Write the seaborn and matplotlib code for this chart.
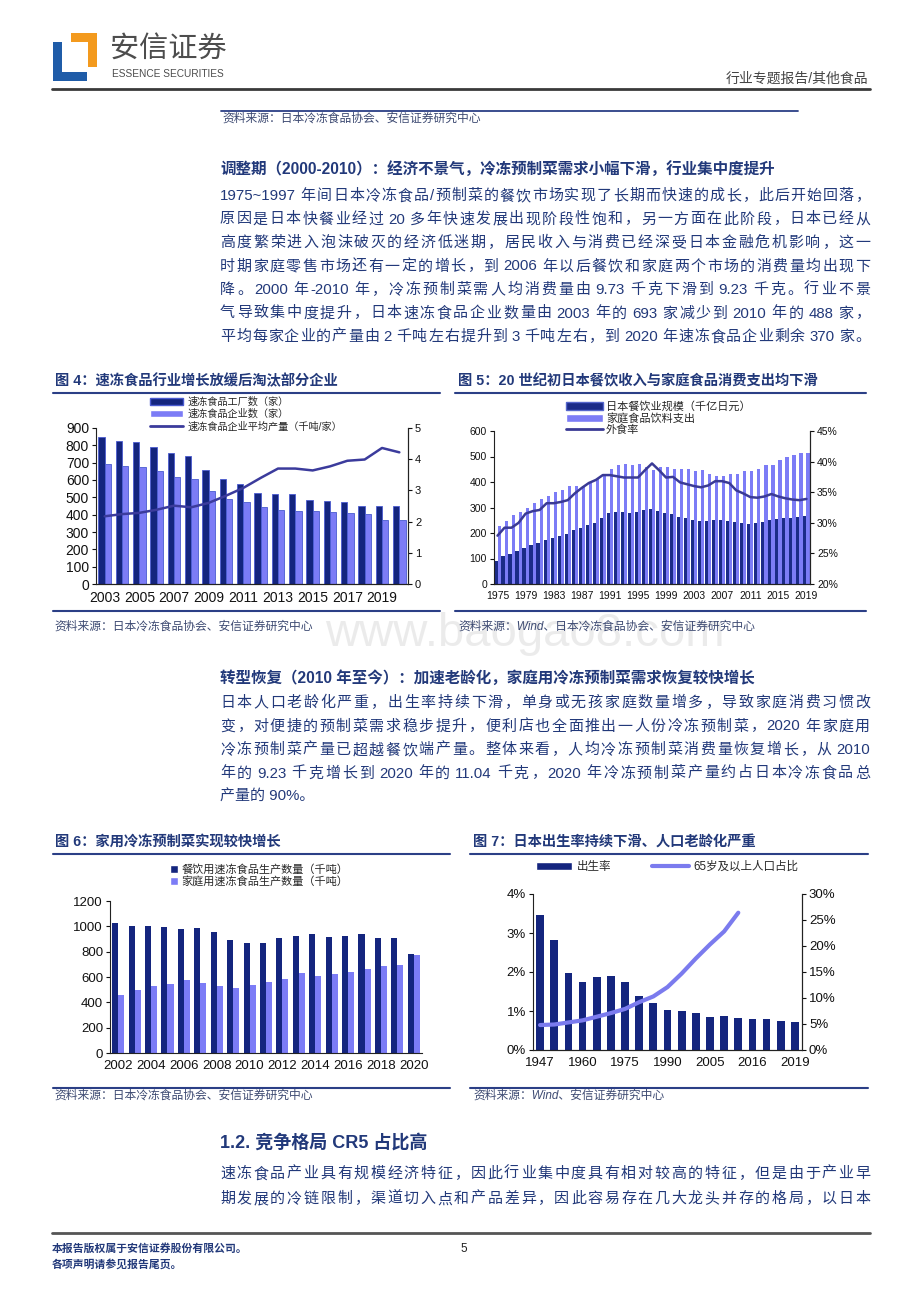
import numpy as np
import pandas as pd
import matplotlib
matplotlib.use('Agg')
import matplotlib.pyplot as plt
import seaborn as sns
from matplotlib.patches import Patch, Rectangle
from matplotlib.lines import Line2D

# ---------------- 数据 ----------------
# 图4 速冻食品行业
years4 = [str(y) for y in range(2003, 2021)]
factories4 = [846, 827, 821, 788, 756, 740, 656, 608, 579, 525, 519, 519, 487, 481, 473, 448, 448, 448]
firms4 = [693, 683, 675, 650, 617, 606, 538, 488, 471, 444, 429, 423, 423, 417, 410, 404, 371, 370]
avg_output4 = [2.17, 2.24, 2.28, 2.38, 2.51, 2.46, 2.60, 2.83, 3.08, 3.40, 3.70, 3.70, 3.64, 3.77, 3.95, 3.99, 4.36, 4.22]

# 图5 餐饮规模 / 家庭食品饮料支出 / 外食率
years5 = [str(y) for y in range(1975, 2020)]
dining5 = [90, 110, 118, 128, 140, 152, 162, 172, 180, 188, 198, 210, 220, 230, 238, 260, 278, 283, 282, 280,
           283, 292, 295, 288, 280, 275, 262, 260, 252, 248, 248, 252, 252, 248, 242, 238, 235, 238, 242, 252,
           256, 260, 260, 262, 265]
home5 = [227, 248, 271, 284, 300, 316, 335, 347, 361, 370, 385, 383, 385, 395, 410, 430, 452, 465, 470, 465,
         470, 460, 448, 460, 460, 450, 450, 450, 443, 447, 430, 425, 425, 432, 432, 442, 442, 452, 465, 465,
         488, 497, 505, 515, 515]
eatout5 = [27.9, 29.2, 29.2, 30.0, 31.5, 31.9, 32.1, 33.2, 33.2, 33.4, 33.7, 34.8, 35.7, 36.5, 37.0, 37.8, 37.8,
           37.6, 37.4, 37.4, 37.4, 38.6, 39.7, 38.6, 37.4, 37.5, 36.6, 36.3, 36.0, 35.8, 36.1, 36.8, 36.8, 36.5,
           35.3, 34.8, 34.2, 34.1, 34.3, 34.7, 34.3, 34.0, 33.8, 33.7, 33.9]

# 图6 餐饮用 / 家庭用速冻食品生产数量（千吨）
years6 = [str(y) for y in range(2002, 2021)]
dining6 = [1030, 1005, 1005, 998, 980, 988, 952, 895, 868, 868, 905, 922, 940, 915, 922, 940, 905, 905, 785]
home6 = [460, 495, 530, 548, 575, 550, 530, 512, 540, 558, 583, 630, 610, 620, 638, 665, 685, 695, 775]

# 图7 出生率 / 65岁及以上人口占比
years7 = ['1947', '1950', '1955', '1960', '1965', '1970', '1975', '1980', '1985', '1990',
          '1995', '2000', '2005', '2010', '2015', '2016', '2017', '2018', '2019']
birth7 = [3.45, 2.83, 1.97, 1.74, 1.88, 1.91, 1.74, 1.38, 1.20, 1.03, 0.99, 0.96, 0.84, 0.87, 0.81, 0.79, 0.79, 0.75, 0.72]
aged7 = [4.8, 4.9, 5.3, 5.7, 6.4, 7.1, 7.9, 9.2, 10.3, 12.1, 14.7, 17.6, 20.3, 22.8, 26.4]

# ---------------- 样式 ----------------
sns.set_theme(style='white')
plt.rcParams['font.family'] = ['Liberation Sans', 'Noto Sans CJK SC', 'DejaVu Sans']

W, H = 920, 1302
navy = '#14257e'
light = '#7c7cf6'
text_c = '#22397a'
src_c = '#3d4a72'

fig = plt.figure(figsize=(W / 100, H / 100), dpi=100)
renderer = fig.canvas.get_renderer()


def fx(x):
    return x / W


def fy(y):
    return 1 - y / H


def px_axes(x0, y0, x1, y1):
    return fig.add_axes([fx(x0), fy(y1), (x1 - x0) / W, (y1 - y0) / H])


def hline(x0, x1, y, color, lw):
    fig.add_artist(Line2D([fx(x0), fx(x1)], [fy(y), fy(y)], transform=fig.transFigure, color=color, lw=lw))


def txt(x, y, s, size, **kw):
    kw.setdefault('color', text_c)
    return fig.text(fx(x), fy(y), s, fontsize=size, va='center', **kw)


def tokens_of(s):
    # 中文逐字拆分, 连续的ASCII字符合为一段, 空格记作额外间距
    toks, buf, spaces = [], '', 0
    for ch in s:
        if ch == ' ':
            if buf:
                toks.append((buf, spaces))
                buf, spaces = '', 0
            spaces += 1
        elif ord(ch) < 128:
            buf += ch
        else:
            if buf:
                toks.append((buf, spaces))
                buf, spaces = '', 0
            toks.append((ch, spaces))
            spaces = 0
    if buf:
        toks.append((buf, spaces))
    return toks


def justify(x0, x1, y, s, size):
    toks = tokens_of(s)
    objs = [txt(x0, y, t, size) for t, _ in toks]
    widths = [o.get_window_extent(renderer).width for o in objs]
    space_w = 3.5
    natural = sum(widths) + space_w * sum(sp for _, sp in toks)
    gap = (x1 - x0 - natural) / max(len(toks) - 1, 1)
    x = x0
    for o, w, (_, sp) in zip(objs, widths, toks):
        x += sp * space_w
        o.set_x(fx(x))
        x += w + gap


def style_ax(ax, size, right=False):
    ax.spines['top'].set_visible(False)
    ax.spines['right'].set_visible(right)
    for s in ['left', 'bottom', 'right']:
        ax.spines[s].set_color('#222222')
        ax.spines[s].set_linewidth(0.8)
    ax.tick_params(axis='both', which='both', direction='out', length=3, width=0.8,
                   labelsize=size, colors='#111111', pad=2)
    ax.tick_params(axis='y', left=True)
    ax.tick_params(axis='x', bottom=False)
    ax.set_xlabel('')
    ax.set_ylabel('')
    ax.grid(False)


# ---------------- 页眉 ----------------
for (x0, y0, x1, y1, c) in [(71, 33, 97, 42, '#f39a1e'), (88, 33, 97, 67, '#f39a1e'),
                            (53, 42, 62, 81, '#1f5ca8'), (53, 72, 87, 81, '#1f5ca8')]:
    fig.add_artist(Rectangle((fx(x0), fy(y1)), (x1 - x0) / W, (y1 - y0) / H,
                             transform=fig.transFigure, color=c, lw=0))
txt(110, 49, '安信证券', 21, color='#4d4d4d')
txt(112, 74, 'ESSENCE SECURITIES', 7.3, color='#4d4d4d')
txt(868, 79, '行业专题报告/其他食品', 10, color='#444444', ha='right')
hline(52, 870, 89, '#3a3a3a', 2)

hline(221, 798, 111, '#2b3f86', 1.3)
txt(222, 119, '资料来源：日本冷冻食品协会、安信证券研究中心', 8.5, color=src_c, style='italic')

# ---------------- 正文 1 ----------------
txt(220, 170, '调整期（2000-2010）：经济不景气，冷冻预制菜需求小幅下滑，行业集中度提升', 11.2, fontweight='bold')
para1 = ['1975~1997 年间日本冷冻食品/预制菜的餐饮市场实现了长期而快速的成长，此后开始回落，',
         '原因是日本快餐业经过 20 多年快速发展出现阶段性饱和，另一方面在此阶段，日本已经从',
         '高度繁荣进入泡沫破灭的经济低迷期，居民收入与消费已经深受日本金融危机影响，这一',
         '时期家庭零售市场还有一定的增长，到 2006 年以后餐饮和家庭两个市场的消费量均出现下',
         '降。2000 年-2010 年，冷冻预制菜需人均消费量由 9.73 千克下滑到 9.23 千克。行业不景',
         '气导致集中度提升，日本速冻食品企业数量由 2003 年的 693 家减少到 2010 年的 488 家，',
         '平均每家企业的产量由 2 千吨左右提升到 3 千吨左右，到 2020 年速冻食品企业剩余 370 家。']
for i, line in enumerate(para1):
    justify(220, 870, 196 + i * 23.5, line, 10.8)

# ---------------- 图4 / 图5 标题 ----------------
txt(55, 381, '图 4：速冻食品行业增长放缓后淘汰部分企业', 10.3, fontweight='bold')
txt(458, 381, '图 5：20 世纪初日本餐饮收入与家庭食品消费支出均下滑', 10.3, fontweight='bold')
hline(53, 440, 393, '#2b3f86', 1.5)
hline(455, 866, 393, '#2b3f86', 1.5)

# 图4
ax4 = px_axes(96, 428, 408, 584)
df4 = pd.DataFrame({'年份': years4 * 2,
                    '数量': factories4 + firms4,
                    '系列': ['工厂'] * len(years4) + ['企业'] * len(years4)})
sns.barplot(data=df4, x='年份', y='数量', hue='系列', palette=[navy, light], width=0.74,
            saturation=1, errorbar=None, legend=False, ax=ax4, edgecolor='#4a5bd0', linewidth=0.6)
ax4.set_ylim(0, 900)
ax4.set_yticks(range(0, 901, 100))
ax4.set_xticks(range(0, len(years4), 2))
ax4.set_xticklabels(years4[::2])
style_ax(ax4, 10, right=True)
ax4b = ax4.twinx()
sns.lineplot(x=np.arange(len(years4)), y=avg_output4, ax=ax4b, color='#3b3b9c', linewidth=1.8)
ax4b.set_ylim(0, 5)
ax4b.set_yticks(range(0, 6))
style_ax(ax4b, 8, right=True)
ax4b.spines['left'].set_visible(False)
ax4b.tick_params(axis='y', left=False, right=True)
ax4.set_xlim(-0.5, len(years4) - 0.5)
h4 = [Patch(facecolor=navy, edgecolor='#4a5bd0'), Patch(facecolor=light),
      Line2D([], [], color='#3b3b9c', lw=2)]
fig.legend(h4, ['速冻食品工厂数（家）', '速冻食品企业数（家）', '速冻食品企业平均产量（千吨/家）'],
           loc='upper left', bbox_to_anchor=(fx(150), fy(397)), frameon=False, fontsize=7.3,
           handlelength=3.3, handleheight=0.7, labelspacing=0.18, handletextpad=0.4,
           borderpad=0, borderaxespad=0)

# 图5
ax5 = px_axes(494, 431, 810, 584)
df5 = pd.DataFrame({'年份': years5 * 2,
                    '金额': dining5 + home5,
                    '系列': ['餐饮'] * len(years5) + ['家庭'] * len(years5)})
sns.barplot(data=df5, x='年份', y='金额', hue='系列', palette=['#1b2b88', light], width=0.9,
            saturation=1, errorbar=None, legend=False, ax=ax5, linewidth=0)
ax5.set_ylim(0, 600)
ax5.set_yticks(range(0, 601, 100))
ax5.set_xticks(range(0, len(years5), 4))
ax5.set_xticklabels(years5[::4])
style_ax(ax5, 7.5, right=True)
ax5b = ax5.twinx()
sns.lineplot(x=np.arange(len(years5)), y=eatout5, ax=ax5b, color='#3a3a95', linewidth=1.8)
ax5b.set_ylim(20, 45)
ax5b.set_yticks(range(20, 46, 5))
ax5b.set_yticklabels([f'{v}%' for v in range(20, 46, 5)])
style_ax(ax5b, 7.5, right=True)
ax5b.spines['left'].set_visible(False)
ax5b.tick_params(axis='y', left=False, right=True)
ax5.set_xlim(-0.5, len(years5) - 0.5)
h5 = [Patch(facecolor='#1b2b88', edgecolor='#5566cc'), Patch(facecolor=light),
      Line2D([], [], color='#3a3a95', lw=2)]
fig.legend(h5, ['日本餐饮业规模（千亿日元）', '家庭食品饮料支出', '外食率'],
           loc='upper left', bbox_to_anchor=(fx(566), fy(401)), frameon=False, fontsize=8,
           handlelength=3.3, handleheight=0.7, labelspacing=0.1, handletextpad=0.3,
           borderpad=0, borderaxespad=0)

hline(53, 440, 611, '#2b3f86', 1.5)
hline(455, 866, 611, '#2b3f86', 1.5)
txt(54, 627, '资料来源：日本冷冻食品协会、安信证券研究中心', 8.5, color=src_c, style='italic')
txt(458, 627, '资料来源：Wind、日本冷冻食品协会、安信证券研究中心', 8.5, color=src_c, style='italic')

# 水印
fig.text(fx(525), fy(634), 'www.baogao8.com', fontsize=34, color='#dcdcdc', alpha=0.55,
         ha='center', va='center', zorder=0)

# ---------------- 正文 2 ----------------
txt(220, 678, '转型恢复（2010 年至今）：加速老龄化，家庭用冷冻预制菜需求恢复较快增长', 11.2, fontweight='bold')
para2 = ['日本人口老龄化严重，出生率持续下滑，单身或无孩家庭数量增多，导致家庭消费习惯改',
         '变，对便捷的预制菜需求稳步提升，便利店也全面推出一人份冷冻预制菜，2020 年家庭用',
         '冷冻预制菜产量已超越餐饮端产量。整体来看，人均冷冻预制菜消费量恢复增长，从 2010',
         '年的 9.23 千克增长到 2020 年的 11.04 千克，2020 年冷冻预制菜产量约占日本冷冻食品总']
for i, line in enumerate(para2):
    justify(220, 870, 703 + i * 23.5, line, 10.8)
txt(220, 703 + 4 * 23.5, '产量的 90%。', 10.8)

# ---------------- 图6 / 图7 ----------------
txt(55, 842, '图 6：家用冷冻预制菜实现较快增长', 10.3, fontweight='bold')
txt(473, 842, '图 7：日本出生率持续下滑、人口老龄化严重', 10.3, fontweight='bold')
hline(53, 450, 854, '#2b3f86', 1.5)
hline(470, 868, 854, '#2b3f86', 1.5)

ax6 = px_axes(110, 901, 422, 1053)
df6 = pd.DataFrame({'年份': years6 * 2,
                    '产量': dining6 + home6,
                    '系列': ['餐饮用'] * len(years6) + ['家庭用'] * len(years6)})
sns.barplot(data=df6, x='年份', y='产量', hue='系列', palette=[navy, light], width=0.74,
            saturation=1, errorbar=None, legend=False, ax=ax6, linewidth=0)
ax6.set_ylim(0, 1200)
ax6.set_yticks(range(0, 1201, 200))
ax6.set_xticks(range(0, len(years6), 2))
ax6.set_xticklabels(years6[::2])
style_ax(ax6, 9.5)
ax6.set_xlim(-0.5, len(years6) - 0.5)
h6 = [Patch(facecolor=navy), Patch(facecolor=light)]
fig.legend(h6, ['餐饮用速冻食品生产数量（千吨）', '家庭用速冻食品生产数量（千吨）'],
           loc='upper left', bbox_to_anchor=(fx(170), fy(864)), frameon=False, fontsize=8,
           handlelength=0.7, handleheight=0.7, labelspacing=0.15, handletextpad=0.3,
           borderpad=0, borderaxespad=0)

ax7 = px_axes(533, 894, 802, 1050)
df7 = pd.DataFrame({'年份': years7, '出生率': birth7})
sns.barplot(data=df7, x='年份', y='出生率', color=navy, width=0.55, saturation=1,
            errorbar=None, ax=ax7, linewidth=0)
ax7.set_ylim(0, 4)
ax7.set_yticks(range(0, 5))
ax7.set_yticklabels([f'{v}%' for v in range(0, 5)])
ax7.set_xticks(range(0, len(years7), 3))
ax7.set_xticklabels(years7[::3])
style_ax(ax7, 9.5, right=True)
ax7b = ax7.twinx()
sns.lineplot(x=np.arange(len(aged7)), y=aged7, ax=ax7b, color='#7b7bee', linewidth=3)
ax7b.set_ylim(0, 30)
ax7b.set_yticks(range(0, 31, 5))
ax7b.set_yticklabels([f'{v}%' for v in range(0, 31, 5)])
style_ax(ax7b, 9.5, right=True)
ax7b.spines['left'].set_visible(False)
ax7b.tick_params(axis='y', left=False, right=True)
ax7.set_xlim(-0.5, len(years7) - 0.5)
h7 = [Patch(facecolor=navy), Line2D([], [], color='#7b7bee', lw=3)]
fig.legend(h7, ['出生率', '65岁及以上人口占比'], loc='upper center', ncol=2,
           bbox_to_anchor=(fx(667), fy(861)), frameon=False, fontsize=8.3,
           handlelength=3.2, handleheight=0.8, columnspacing=3.5, handletextpad=0.4,
           borderpad=0, borderaxespad=0)

hline(53, 450, 1088, '#2b3f86', 1.5)
hline(470, 868, 1088, '#2b3f86', 1.5)
txt(54, 1096, '资料来源：日本冷冻食品协会、安信证券研究中心', 8.5, color=src_c, style='italic')
txt(473, 1096, '资料来源：Wind、安信证券研究中心', 8.5, color=src_c, style='italic')

# ---------------- 正文 3 ----------------
txt(220, 1143, '1.2. 竞争格局 CR5 占比高', 13, fontweight='bold')
para3 = ['速冻食品产业具有规模经济特征，因此行业集中度具有相对较高的特征，但是由于产业早',
         '期发展的冷链限制，渠道切入点和产品差异，因此容易存在几大龙头并存的格局，以日本']
for i, line in enumerate(para3):
    justify(220, 870, 1174 + i * 25, line, 10.8)

# ---------------- 页脚 ----------------
hline(52, 870, 1233, '#555555', 2)
txt(52, 1248, '本报告版权属于安信证券股份有限公司。', 7.8, fontweight='bold')
txt(52, 1264, '各项声明请参见报告尾页。', 7.8, fontweight='bold')
txt(460, 1249, '5', 8.5, color='#222222')

fig.savefig('out.png', dpi=100)
